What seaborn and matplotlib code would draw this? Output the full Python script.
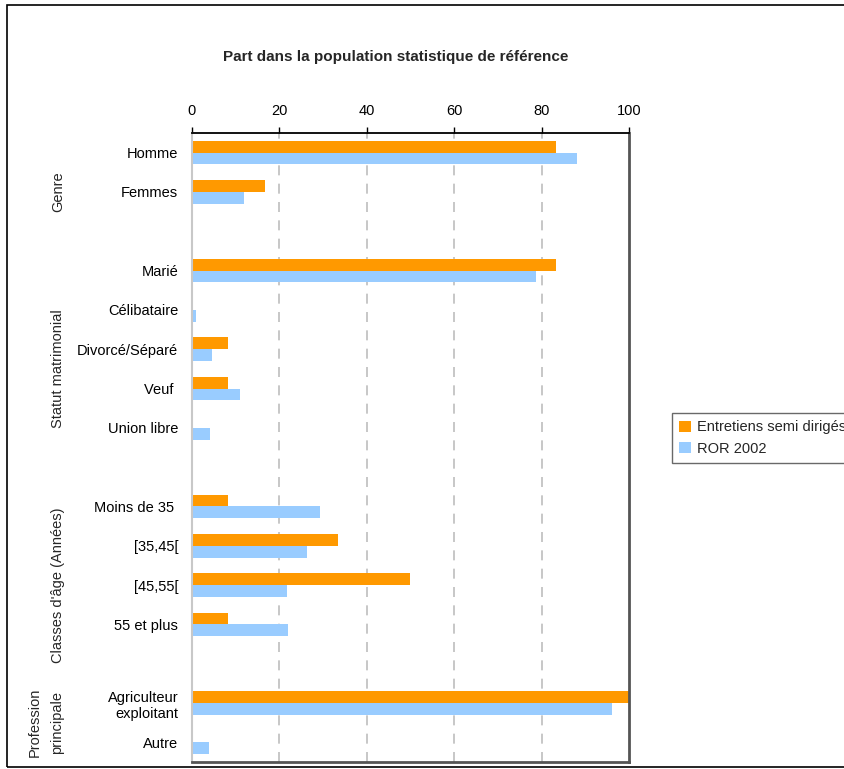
import matplotlib
matplotlib.use("Agg")
import matplotlib.pyplot as plt
import seaborn as sns
import pandas as pd
from matplotlib.patches import Rectangle

# ---- data ----
categories = ["Homme", "Femmes", " ", "Marié", "Célibataire", "Divorcé/Séparé",
              "Veuf ", "Union libre", "  ", "Moins de 35 ", "[35,45[", "[45,55[",
              "55 et plus", "   ", "Agriculteur\nexploitant", "Autre"]
entretiens = [83.3, 16.7, 0, 83.3, 0, 8.3, 8.3, 0, 0, 8.3, 33.3, 50.0, 8.3, 0, 100.0, 0]
ror2002 = [88.2, 11.8, 0, 78.7, 1.0, 4.6, 11.0, 4.2, 0, 29.3, 26.4, 21.8, 22.0, 0, 96.1, 4.0]
series_names = ["Entretiens semi dirigés", "ROR 2002"]
groups = ["Genre", "Statut matrimonial", "Classes d'âge (Années)", "Profession\nprincipale"]
x_ticks = [0, 20, 40, 60, 80, 100]
title = "Part dans la population statistique de référence"

df = pd.DataFrame({
    "cat": categories * 2,
    "val": entretiens + ror2002,
    "serie": [series_names[0]] * len(categories) + [series_names[1]] * len(categories),
})

sns.set_theme(style="white")
plt.rcParams["font.family"] = ["Liberation Sans", "DejaVu Sans"]

W, H = 845, 769
fig = plt.figure(figsize=(W / 100, H / 100), dpi=100)
ax = fig.add_axes([192 / W, 1 - 762 / H, (629 - 192) / W, (762 - 133) / H])

sns.barplot(data=df, y="cat", x="val", hue="serie", order=categories,
            hue_order=series_names, palette=["#FF9900", "#99CCFF"],
            orient="h", width=0.6, saturation=1, linewidth=0, ax=ax, legend=True)

ax.set_xlim(0, 100)
ax.set_ylim(len(categories) - 0.5, -0.5)
ax.xaxis.tick_top()
ax.set_xticks(x_ticks)
ax.set_xticklabels([str(t) for t in x_ticks], fontsize=10.5, color="black")
ax.tick_params(axis="x", which="major", direction="out", length=4, width=1,
               color="black", pad=7)
ax.tick_params(axis="y", length=0, labelsize=10.5, pad=10, labelcolor="black")
ax.set_xlabel("")
ax.set_ylabel("")
for lbl in ax.get_yticklabels():
    lbl.set_horizontalalignment("right")

for x in x_ticks[1:-1]:
    ax.axvline(x, color="#bdbdbd", lw=1.2, ls=(0, (6, 5)), zorder=0)

ax.spines["top"].set_color("black")
ax.spines["top"].set_linewidth(1.3)
ax.spines["left"].set_color("#c8c8c8")
ax.spines["left"].set_linewidth(1.5)
ax.spines["right"].set_color("#555555")
ax.spines["right"].set_linewidth(2)
ax.spines["bottom"].set_color("#555555")
ax.spines["bottom"].set_linewidth(2)
for s in ax.spines.values():
    s.set_visible(True)

# group labels
group_centers = [1.0, 5.5, 11.0, 14.5]
for g, c in zip(groups, group_centers):
    y_fig = 1 - (133 + (c + 0.5) * (762 - 133) / len(categories)) / H
    if "\n" in g:
        x_fig = 46 / W
    else:
        x_fig = 58 / W
    fig.text(x_fig, y_fig, g, rotation=90, ha="center", va="center",
             fontsize=10.5, linespacing=1.7, multialignment="center")

fig.text(396 / W, 1 - 57 / H, title, ha="center", va="center",
         fontsize=11, fontweight="bold")

# legend
leg = ax.get_legend()
handles = leg.legend_handles
leg.remove()
fig.legend(handles, series_names, loc="upper left",
           bbox_to_anchor=(672 / W, 1 - 413 / H), frameon=True,
           fancybox=False, edgecolor="#444444", fontsize=10.5,
           handlelength=0.8, handleheight=0.8, handletextpad=0.4,
           borderpad=0.5, labelspacing=0.5, borderaxespad=0)
fig.legends[0].get_frame().set_linewidth(1.0)

# outer chart frame
fig.patches.append(Rectangle((7 / W, 1 - 767 / H), 1.0, (767 - 5) / H,
                             transform=fig.transFigure, fill=False,
                             edgecolor="black", lw=1.2, zorder=-1))

fig.savefig("out.png", dpi=100)
